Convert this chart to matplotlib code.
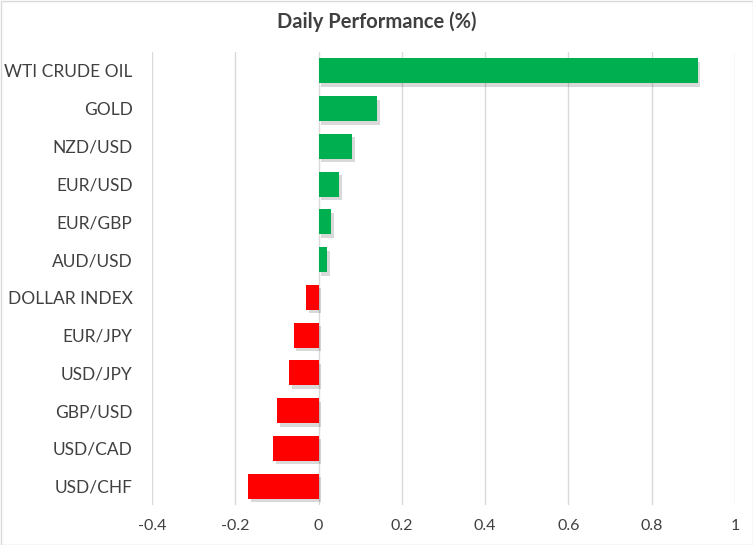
import matplotlib
matplotlib.use("Agg")
import matplotlib.pyplot as plt
import matplotlib.patheffects as pe
from matplotlib.patches import Rectangle

categories = ["WTI CRUDE OIL", "GOLD", "NZD/USD", "EUR/USD", "EUR/GBP", "AUD/USD",
              "DOLLAR INDEX", "EUR/JPY", "USD/JPY", "GBP/USD", "USD/CAD", "USD/CHF"]
values = [0.91, 0.14, 0.08, 0.05, 0.03, 0.02, -0.03, -0.06, -0.07, -0.10, -0.11, -0.17]
xticks = [-0.4, -0.2, 0, 0.2, 0.4, 0.6, 0.8, 1]
xticklabels = ["-0.4", "-0.2", "0", "0.2", "0.4", "0.6", "0.8", "1"]
title = "Daily Performance (%)"

plt.rcParams['font.family'] = ['Lato', 'DejaVu Sans']
txt = "#404040"

fig = plt.figure(figsize=(7.53, 5.45), dpi=100)
ax = fig.add_axes([152/753, 1-505/545, (735-152)/753, (505-52)/545])

colors = ["#00B050" if v >= 0 else "#FF0000" for v in values]
ypos = list(range(len(categories)))
bars = ax.barh(ypos, values, height=0.66, color=colors, zorder=3)
for b in bars:
    b.set_path_effects([pe.SimplePatchShadow(offset=(2, -2.5), shadow_rgbFace="#000000", alpha=0.15, rho=0.3), pe.Normal()])

ax.set_ylim(len(categories)-0.5, -0.5)
ax.set_xlim(-0.4, 1.0)
ax.set_xticks(xticks)
ax.set_xticklabels(xticklabels, fontsize=11.5, color=txt)
ax.set_yticks(ypos)
ax.set_yticklabels(categories, fontsize=12.5, color=txt)
ax.tick_params(axis='both', length=0)
ax.tick_params(axis='x', pad=10)
ax.tick_params(axis='y', pad=14)
ax.grid(axis='x', color="#D9D9D9", linewidth=1, zorder=0)
for s in ax.spines.values():
    s.set_visible(False)

fig.text(0.5, 1-22/545, title, ha='center', va='center', fontsize=14.5, fontweight='bold', color=txt)
fig.patches.append(Rectangle((0.5/753, 0.5/545), 1-1/753, 1-1/545, transform=fig.transFigure,
                             fill=False, edgecolor="#D9D9D9", linewidth=1))

fig.savefig("out.png", dpi=100)
